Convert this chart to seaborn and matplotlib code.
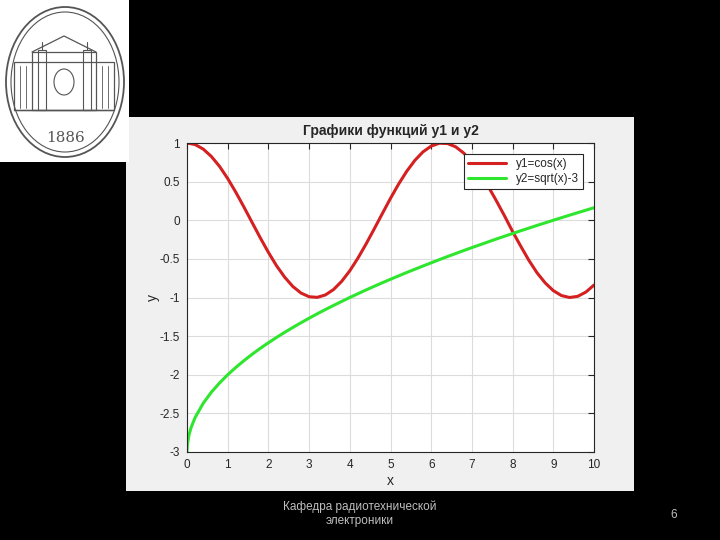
import numpy as np
import pandas as pd
import matplotlib
matplotlib.use('Agg')
import matplotlib.pyplot as plt
import matplotlib.patches as patches
import seaborn as sns

# значения
x1 = [0, 0.2, 0.4, 0.6, 0.8, 1.0, 1.2, 1.4, 1.6, 1.8, 2.0, 2.2, 2.4, 2.6, 2.8,
      3.0, 3.2, 3.4, 3.6, 3.8, 4.0, 4.2, 4.4, 4.6, 4.8, 5.0, 5.2, 5.4, 5.6, 5.8,
      6.0, 6.2, 6.4, 6.6, 6.8, 7.0, 7.2, 7.4, 7.6, 7.8, 8.0, 8.2, 8.4, 8.6, 8.8,
      9.0, 9.2, 9.4, 9.6, 9.8, 10.0]
y1 = [1.0, 0.980, 0.921, 0.825, 0.697, 0.540, 0.362, 0.170, -0.029, -0.227,
      -0.416, -0.589, -0.737, -0.857, -0.942, -0.990, -0.998, -0.967, -0.897,
      -0.791, -0.654, -0.490, -0.307, -0.112, 0.087, 0.284, 0.469, 0.635, 0.776,
      0.886, 0.960, 0.997, 0.993, 0.951, 0.869, 0.754, 0.608, 0.439, 0.253,
      0.058, -0.146, -0.336, -0.519, -0.680, -0.811, -0.911, -0.975, -1.0,
      -0.985, -0.930, -0.839]

x2 = [0, 0.01, 0.05, 0.1] + x1[1:]
y2 = [-3.0, -2.9, -2.776, -2.684, -2.553, -2.368, -2.225, -2.106, -2.0, -1.905,
      -1.817, -1.735, -1.658, -1.586, -1.517, -1.451, -1.388, -1.327, -1.268,
      -1.211, -1.156, -1.103, -1.051, -1.0, -0.951, -0.902, -0.855, -0.809,
      -0.764, -0.720, -0.676, -0.634, -0.592, -0.551, -0.510, -0.470, -0.431,
      -0.392, -0.354, -0.317, -0.280, -0.243, -0.207, -0.172, -0.136, -0.102,
      -0.067, -0.034, 0.0, 0.033, 0.066, 0.098, 0.130, 0.162]

xticks = list(range(0, 11))
yticks = [-3, -2.5, -2, -1.5, -1, -0.5, 0, 0.5, 1]

sns.set_style('whitegrid')
plt.rcParams['font.family'] = ['Liberation Sans', 'DejaVu Sans']
plt.rcParams['axes.unicode_minus'] = False

fig = plt.figure(figsize=(7.2, 5.4), dpi=100, facecolor='black')

# серая подложка окна MATLAB
fig.patches.append(patches.Rectangle((126/720, 1-491/540), (634-126)/720, (491-117)/540,
                                     transform=fig.transFigure, facecolor='#f0f0f0',
                                     edgecolor='none', zorder=-10))

ax = fig.add_axes([187/720, 1-452/540, (594-187)/720, (452-143)/540])
ax.set_facecolor('white')

sns.lineplot(x=x1, y=y1, ax=ax, color='#d42020', lw=2.2, label='y1=cos(x)', sort=False)
sns.lineplot(x=x2, y=y2, ax=ax, color='#2ee62e', lw=2.2, label='y2=sqrt(x)-3', sort=False)

ax.set_xlim(0, 10)
ax.set_ylim(-3, 1)
ax.set_xticks(xticks)
ax.set_yticks(yticks)
ax.set_yticklabels(['%g' % v for v in yticks])
ax.grid(True, color='#dcdcdc', lw=0.8)
ax.tick_params(direction='in', length=4, colors='#262626', labelsize=8.5,
               top=True, right=True, labelcolor='#262626', pad=5)
for s in ax.spines.values():
    s.set_color('#262626')
    s.set_linewidth(0.8)

ax.set_title('Графики функций y1 и y2', fontsize=10, fontweight='bold', pad=6)
ax.set_xlabel('x', fontsize=10, labelpad=2)
ax.set_ylabel('y', fontsize=10, labelpad=0)

leg = ax.legend(loc='upper right', fontsize=8.5, frameon=True, fancybox=False,
                borderaxespad=0.9, handlelength=3.2, borderpad=0.4, labelspacing=0.2)
leg.get_frame().set_edgecolor('#262626')
leg.get_frame().set_linewidth(0.8)
leg.get_frame().set_alpha(1)

# логотип
lax = fig.add_axes([0, 1-162/540, 129/720, 162/540])
lax.set_xlim(0, 129)
lax.set_ylim(162, 0)
lax.set_facecolor('white')
lax.set_xticks([])
lax.set_yticks([])
for s in lax.spines.values():
    s.set_visible(False)
lc = '#555555'
lax.add_patch(patches.Ellipse((65, 82), 118, 150, fill=False, ec=lc, lw=1.3))
lax.add_patch(patches.Ellipse((65, 82), 108, 140, fill=False, ec=lc, lw=0.8))
lax.add_patch(patches.Rectangle((14, 62), 100, 48, fill=False, ec=lc, lw=0.9))
lax.add_patch(patches.Rectangle((32, 52), 64, 58, fill=False, ec=lc, lw=0.9))
lax.plot([32, 64, 96], [52, 36, 52], color=lc, lw=0.9)
lax.add_patch(patches.Rectangle((38, 50), 8, 60, fill=False, ec=lc, lw=0.8))
lax.add_patch(patches.Rectangle((83, 50), 8, 60, fill=False, ec=lc, lw=0.8))
lax.plot([42, 42], [42, 50], color=lc, lw=0.8)
lax.plot([87, 87], [42, 50], color=lc, lw=0.8)
lax.add_patch(patches.Ellipse((64, 82), 20, 26, fill=False, ec=lc, lw=0.8))
for xx in [20, 26, 102, 108]:
    lax.plot([xx, xx], [66, 108], color=lc, lw=0.6)
lax.plot([14, 114], [110, 110], color=lc, lw=1.0)
lax.text(65, 138, '1886', ha='center', va='center', fontsize=11,
         family='DejaVu Serif', color='#555555')

fig.text(360/720, 1-514/540, 'Кафедра радиотехнической\nэлектроники', ha='center',
         va='center', fontsize=8.5, color='#bfbfbf', linespacing=1.2)
fig.text(674/720, 1-515/540, '6', ha='center', va='center', fontsize=8.5, color='#bfbfbf')

fig.savefig('out.png', dpi=100, facecolor='black')
